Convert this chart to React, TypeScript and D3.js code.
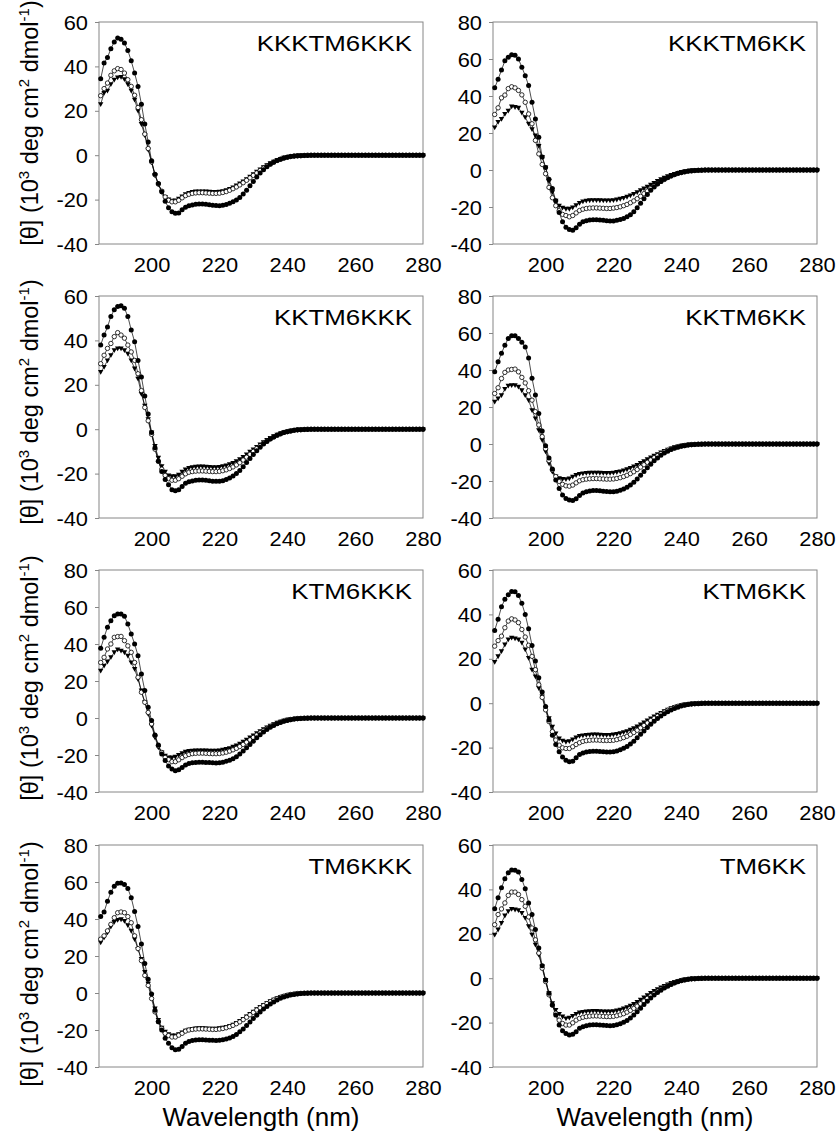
import { useEffect, useRef } from "react";
import * as d3 from "d3";

// wavelength grid, 1 nm steps
const wavelengths = d3.range(185, 281);

const titles = ["KKKTM6KKK", "KKKTM6KK", "KKTM6KKK", "KKTM6KK", "KTM6KKK", "KTM6KK", "TM6KKK", "TM6KK"];
const yMaxes = [60, 80, 60, 80, 80, 60, 80, 60];
const yTicks60 = [-40, -20, 0, 20, 40, 60];
const yTicks80 = [-40, -20, 0, 20, 40, 60, 80];
const xTicks = [200, 220, 240, 260, 280];

// filled circles / open circles / filled triangles, 185..280 nm
const kkkKkkFilled = [
  34.4, 41.5, 44, 48, 51, 52.8, 52.2, 50.5, 47.2, 42.5,
  37, 31, 23, 14, 6, -2.5, -8.6, -12.8, -16.5, -20.7,
  -23.7, -25.5, -26.2, -26, -24.6, -23.4, -22.8, -22.4, -22.1, -22,
  -22, -22.1, -22.3, -22.5, -22.7, -22.8, -22.6, -22.2, -21.6, -21,
  -20.2, -19, -17.5, -15.8, -13.8, -11.8, -9.8, -8, -6.5, -5.2,
  -4.1, -3.2, -2.4, -1.8, -1.3, -0.9, -0.6, -0.4, -0.3, -0.2, -0.1, -0.1,
  0, 0, 0, 0, 0, 0, 0, 0, 0, 0, 0, 0, 0, 0, 0, 0, 0, 0, 0, 0, 0, 0, 0, 0, 0, 0, 0, 0, 0, 0, 0, 0, 0, 0,
];
const kkkKkkOpen = [
  26.8, 30, 32.5, 36, 38, 39, 38.6, 37, 34, 31,
  27, 21.5, 16, 9.5, 3, -3, -8.8, -13, -16.2, -18.8,
  -20.3, -21, -21, -20.3, -19.2, -18.2, -17.6, -17.2, -17, -16.9,
  -16.9, -17, -17.1, -17.2, -17.2, -17.1, -16.8, -16.4, -15.8, -15.1,
  -14.3, -13.4, -12.4, -11.3, -10.2, -9.1, -8, -6.9, -5.8, -4.8,
  -3.9, -3.1, -2.4, -1.8, -1.3, -0.9, -0.6, -0.4, -0.3, -0.2, -0.1, 0,
  0, 0, 0, 0, 0, 0, 0, 0, 0, 0, 0, 0, 0, 0, 0, 0, 0, 0, 0, 0, 0, 0, 0, 0, 0, 0, 0, 0, 0, 0, 0, 0, 0, 0,
];
const kkkKkkTri = [
  23, 28, 29, 32, 34, 35, 35.2, 34.2, 32, 29,
  25, 20, 14, 9, 2.5, -3.2, -9, -13.2, -16.5, -18.8,
  -20, -20.5, -20.4, -19.6, -18.6, -17.6, -17, -16.6, -16.4, -16.3,
  -16.3, -16.4, -16.5, -16.6, -16.6, -16.5, -16.2, -15.8, -15.2, -14.5,
  -13.7, -12.8, -11.8, -10.8, -9.7, -8.6, -7.5, -6.4, -5.4, -4.5,
  -3.6, -2.9, -2.2, -1.7, -1.2, -0.8, -0.6, -0.4, -0.2, -0.1, -0.1, 0,
  0, 0, 0, 0, 0, 0, 0, 0, 0, 0, 0, 0, 0, 0, 0, 0, 0, 0, 0, 0, 0, 0, 0, 0, 0, 0, 0, 0, 0, 0, 0, 0, 0, 0,
];

const kkkKkFilled = [
  44.4, 49, 54, 59, 61, 62.3, 62, 60, 55.6, 51,
  45.7, 36.6, 27.6, 17.7, 7, 1.4, -5, -10, -16.6, -23,
  -28, -31, -32.2, -32.5, -31.2, -29.3, -28, -27.4, -27, -26.9,
  -26.9, -27, -27.2, -27.4, -27.5, -27.5, -27.2, -26.8, -26.2, -25.3,
  -24.2, -22.5, -20.4, -18, -15.6, -13.2, -11, -9.2, -7.6, -6.2,
  -5, -4, -3.1, -2.4, -1.8, -1.3, -0.9, -0.6, -0.4, -0.3, -0.2, -0.1,
  0, 0, 0, 0, 0, 0, 0, 0, 0, 0, 0, 0, 0, 0, 0, 0, 0, 0, 0, 0, 0, 0, 0, 0, 0, 0, 0, 0, 0, 0, 0, 0, 0, 0,
];
const kkkKkOpen = [
  30, 33.6, 39, 40.5, 44, 45, 44.4, 43, 40.6, 36.6,
  30.3, 25, 16, 8.7, 3, -2, -9.4, -15, -19.3, -22,
  -24, -24.6, -25.3, -24.6, -23.2, -21.9, -21.2, -20.8, -20.6, -20.5,
  -20.5, -20.6, -20.7, -20.8, -20.8, -20.6, -20.3, -19.9, -19.3, -18.6,
  -17.7, -16.7, -15.5, -14.2, -12.8, -11.4, -10, -8.7, -7.4, -6.2,
  -5.1, -4.1, -3.3, -2.5, -1.9, -1.4, -1, -0.7, -0.5, -0.3, -0.2, -0.1,
  0, 0, 0, 0, 0, 0, 0, 0, 0, 0, 0, 0, 0, 0, 0, 0, 0, 0, 0, 0, 0, 0, 0, 0, 0, 0, 0, 0, 0, 0, 0, 0, 0, 0,
];
const kkkKkTri = [
  23, 26, 27.6, 30.3, 32, 34.3, 34, 33.6, 31, 28.5,
  25, 22, 18.6, 13, 7, 1.4, -6, -12, -16.6, -19.3,
  -20.4, -21, -21, -20.3, -19, -17.8, -17, -16.6, -16.4, -16.3,
  -16.3, -16.4, -16.5, -16.5, -16.5, -16.3, -16, -15.6, -15.1, -14.5,
  -13.8, -13, -12, -11, -10, -9, -8, -7, -6, -5,
  -4.2, -3.4, -2.7, -2.1, -1.6, -1.1, -0.8, -0.5, -0.3, -0.2, -0.1, 0,
  0, 0, 0, 0, 0, 0, 0, 0, 0, 0, 0, 0, 0, 0, 0, 0, 0, 0, 0, 0, 0, 0, 0, 0, 0, 0, 0, 0, 0, 0, 0, 0, 0, 0,
];

const kkKkkFilled = [
  37.9, 42.4, 46, 50.8, 53.8, 55.3, 55.6, 54.5, 50.8, 44.7,
  39.4, 31, 23.5, 15, 6.8, -1.5, -8.3, -14.4, -19, -22.7,
  -25, -27.3, -27.7, -27.3, -25.8, -24.4, -23.7, -23.3, -23, -22.9,
  -22.9, -23, -23.2, -23.4, -23.5, -23.5, -23.2, -22.7, -22, -21.1,
  -20, -18.6, -16.9, -15, -13.2, -11.4, -9.7, -8.1, -6.7, -5.5,
  -4.4, -3.5, -2.7, -2, -1.5, -1.1, -0.8, -0.5, -0.3, -0.2, -0.1, -0.1,
  0, 0, 0, 0, 0, 0, 0, 0, 0, 0, 0, 0, 0, 0, 0, 0, 0, 0, 0, 0, 0, 0, 0, 0, 0, 0, 0, 0, 0, 0, 0, 0, 0, 0,
];
const kkKkkOpen = [
  29.5, 33.3, 36.4, 38.6, 41.7, 43.5, 42.4, 41, 37.9, 34.8,
  31, 25, 17.4, 9.8, 3.8, -2.3, -9, -14.4, -18, -20.8,
  -22.3, -23, -23, -22.3, -21.2, -20.1, -19.4, -19.1, -18.9, -18.8,
  -18.8, -18.9, -19, -19.1, -19.1, -19, -18.7, -18.3, -17.7, -17,
  -16.1, -15.1, -13.9, -12.6, -11.3, -10, -8.7, -7.5, -6.4, -5.3,
  -4.3, -3.5, -2.7, -2.1, -1.5, -1.1, -0.8, -0.5, -0.3, -0.2, -0.1, 0,
  0, 0, 0, 0, 0, 0, 0, 0, 0, 0, 0, 0, 0, 0, 0, 0, 0, 0, 0, 0, 0, 0, 0, 0, 0, 0, 0, 0, 0, 0, 0, 0, 0, 0,
];
const kkKkkTri = [
  25.8, 28, 31, 33.3, 35.6, 36.4, 36.4, 35.6, 34, 31,
  27.3, 22.7, 15.9, 10.6, 4.5, -1.5, -7.6, -12.9, -16.7, -19.2,
  -20.8, -21.2, -21.2, -20.5, -19.2, -18.2, -17.5, -17.1, -16.9, -16.8,
  -16.8, -16.9, -17, -17.1, -17.1, -17, -16.7, -16.3, -15.8, -15.2,
  -14.4, -13.5, -12.5, -11.4, -10.2, -9.1, -8, -6.9, -5.9, -4.9,
  -4, -3.2, -2.5, -1.9, -1.4, -1, -0.7, -0.5, -0.3, -0.2, -0.1, 0,
  0, 0, 0, 0, 0, 0, 0, 0, 0, 0, 0, 0, 0, 0, 0, 0, 0, 0, 0, 0, 0, 0, 0, 0, 0, 0, 0, 0, 0, 0, 0, 0, 0, 0,
];

const kkKkFilled = [
  39, 44.4, 49, 53.4, 57, 58.5, 58.5, 57, 55, 52.5,
  46.5, 35.5, 26.5, 16.5, 7, -1, -7.5, -13.5, -19.5, -24,
  -27.5, -29.5, -30.3, -30.5, -29.6, -27.8, -26.5, -25.8, -25.4, -25.2,
  -25.2, -25.3, -25.5, -25.7, -25.8, -25.8, -25.5, -25, -24.3, -23.4,
  -22.2, -20.7, -18.9, -16.9, -14.8, -12.8, -10.9, -9.1, -7.5, -6.1,
  -4.9, -3.9, -3, -2.3, -1.7, -1.2, -0.9, -0.6, -0.4, -0.3, -0.2, -0.1,
  0, 0, 0, 0, 0, 0, 0, 0, 0, 0, 0, 0, 0, 0, 0, 0, 0, 0, 0, 0, 0, 0, 0, 0, 0, 0, 0, 0, 0, 0, 0, 0, 0, 0,
];
const kkKkOpen = [
  27.3, 30.4, 35.4, 38.7, 40, 40.3, 40.5, 39, 36, 33,
  28.8, 23.7, 17.5, 10.3, 4, -2.5, -9, -14, -17.6, -20.2,
  -21.8, -22.6, -22.8, -22.2, -21, -19.9, -19.3, -19, -18.8, -18.7,
  -18.7, -18.8, -18.9, -19, -19, -18.9, -18.6, -18.2, -17.6, -16.9,
  -16, -15, -13.8, -12.5, -11.2, -9.9, -8.6, -7.4, -6.3, -5.2,
  -4.3, -3.4, -2.7, -2, -1.5, -1.1, -0.8, -0.5, -0.3, -0.2, -0.1, 0,
  0, 0, 0, 0, 0, 0, 0, 0, 0, 0, 0, 0, 0, 0, 0, 0, 0, 0, 0, 0, 0, 0, 0, 0, 0, 0, 0, 0, 0, 0, 0, 0, 0, 0,
];
const kkKkTri = [
  22.8, 24.6, 26.4, 29.7, 31.5, 31.8, 31.8, 31, 29, 26.4,
  23.7, 18.3, 13.8, 7.5, 2.2, -4, -10.4, -15, -17.6, -18.5,
  -18.9, -19, -18.6, -17.7, -16.8, -16.2, -15.9, -15.7, -15.6, -15.5,
  -15.5, -15.6, -15.7, -15.7, -15.7, -15.5, -15.2, -14.8, -14.3, -13.7,
  -13, -12.2, -11.3, -10.3, -9.3, -8.3, -7.3, -6.4, -5.5, -4.6,
  -3.8, -3.1, -2.4, -1.8, -1.3, -0.9, -0.6, -0.4, -0.3, -0.2, -0.1, 0,
  0, 0, 0, 0, 0, 0, 0, 0, 0, 0, 0, 0, 0, 0, 0, 0, 0, 0, 0, 0, 0, 0, 0, 0, 0, 0, 0, 0, 0, 0, 0, 0, 0, 0,
];

const kKkkFilled = [
  37.7, 43.6, 49, 52.6, 55.3, 56.2, 56.2, 55, 50.8, 45.4,
  40, 33.7, 23.8, 14.8, 5.8, -1.4, -9.2, -14.6, -19.5, -23,
  -26, -27.6, -28.5, -28, -26.7, -25.4, -24.6, -24.2, -24, -23.9,
  -23.9, -24, -24.1, -24.2, -24.3, -24.2, -23.9, -23.4, -22.8, -22,
  -20.9, -19.5, -17.9, -16.1, -14.3, -12.5, -10.7, -9, -7.5, -6.2,
  -5, -4, -3.1, -2.4, -1.8, -1.3, -0.9, -0.6, -0.4, -0.3, -0.2, -0.1,
  0, 0, 0, 0, 0, 0, 0, 0, 0, 0, 0, 0, 0, 0, 0, 0, 0, 0, 0, 0, 0, 0, 0, 0, 0, 0, 0, 0, 0, 0, 0, 0, 0, 0,
];
const kKkkOpen = [
  30, 32.8, 37.3, 40, 43.6, 44, 44.1, 41.8, 39, 35.5,
  30, 22, 13.9, 8.5, 3, -3.2, -9.5, -15, -18.6, -21.3,
  -22.5, -23.6, -23.6, -22.6, -21.4, -20.4, -19.7, -19.3, -19.1, -19,
  -19, -19.1, -19.2, -19.3, -19.3, -19.2, -18.9, -18.5, -17.9, -17.2,
  -16.4, -15.4, -14.3, -13.1, -11.8, -10.5, -9.2, -8, -6.8, -5.6,
  -4.6, -3.7, -2.9, -2.2, -1.6, -1.1, -0.8, -0.5, -0.3, -0.2, -0.1, 0,
  0, 0, 0, 0, 0, 0, 0, 0, 0, 0, 0, 0, 0, 0, 0, 0, 0, 0, 0, 0, 0, 0, 0, 0, 0, 0, 0, 0, 0, 0, 0, 0, 0, 0,
];
const kKkkTri = [
  25.6, 28.3, 30.5, 32.8, 35.5, 37, 36.4, 35.5, 33.7, 30,
  26.5, 21, 14.8, 8.5, 2.2, -4.1, -10.5, -15.9, -18.6, -20.4,
  -21.3, -21.4, -21, -20, -19, -18.3, -17.9, -17.7, -17.6, -17.5,
  -17.5, -17.6, -17.7, -17.7, -17.7, -17.5, -17.2, -16.8, -16.3, -15.6,
  -14.8, -13.9, -12.9, -11.8, -10.6, -9.4, -8.3, -7.2, -6.1, -5.1,
  -4.2, -3.4, -2.6, -2, -1.5, -1, -0.7, -0.5, -0.3, -0.2, -0.1, 0,
  0, 0, 0, 0, 0, 0, 0, 0, 0, 0, 0, 0, 0, 0, 0, 0, 0, 0, 0, 0, 0, 0, 0, 0, 0, 0, 0, 0, 0, 0, 0, 0, 0, 0,
];

const kKkFilled = [
  32.8, 37.8, 43.4, 46.8, 48.8, 50.3, 50.2, 48.5, 45, 40,
  33.5, 26, 19, 11.5, 5, -1.5, -7.6, -14.4, -18.6, -21.9,
  -24.2, -25.7, -26.4, -26.1, -24.6, -23.1, -22.4, -22, -21.8, -21.7,
  -21.7, -21.8, -21.9, -22, -22, -21.9, -21.5, -21, -20.3, -19.5,
  -18.4, -17.1, -15.6, -14, -12.5, -11, -9.5, -8.1, -6.9, -5.8,
  -4.8, -3.9, -3.1, -2.4, -1.8, -1.3, -0.9, -0.6, -0.4, -0.3, -0.2, -0.1,
  0, 0, 0, 0, 0, 0, 0, 0, 0, 0, 0, 0, 0, 0, 0, 0, 0, 0, 0, 0, 0, 0, 0, 0, 0, 0, 0, 0, 0, 0, 0, 0, 0, 0,
];
const kKkOpen = [
  25.7, 28.2, 30.2, 34, 37, 38, 37.5, 36.3, 33.2, 29.8,
  26.1, 21.1, 15.1, 8.3, 2.6, -3, -8.3, -12.8, -16.6, -18.9,
  -20.1, -20.4, -20.4, -19.6, -18.6, -17.8, -17.2, -16.9, -16.7, -16.6,
  -16.6, -16.7, -16.8, -16.8, -16.8, -16.7, -16.4, -16, -15.5, -14.9,
  -14.1, -13.2, -12.2, -11.1, -10, -8.9, -7.8, -6.8, -5.8, -4.9,
  -4, -3.2, -2.5, -1.9, -1.4, -1, -0.7, -0.5, -0.3, -0.2, -0.1, 0,
  0, 0, 0, 0, 0, 0, 0, 0, 0, 0, 0, 0, 0, 0, 0, 0, 0, 0, 0, 0, 0, 0, 0, 0, 0, 0, 0, 0, 0, 0, 0, 0, 0, 0,
];
const kKkTri = [
  18.6, 21.1, 23.4, 26.4, 28.7, 29.5, 29.2, 28.7, 27.2, 24.2,
  20.4, 15.1, 12, 6.8, 3, -2.3, -6.8, -10.6, -13.6, -15.9,
  -16.9, -17.4, -17.1, -16.3, -15.4, -14.8, -14.5, -14.3, -14.2, -14.1,
  -14.1, -14.2, -14.3, -14.3, -14.3, -14.1, -13.9, -13.5, -13.1, -12.6,
  -12, -11.3, -10.5, -9.6, -8.7, -7.8, -6.9, -6, -5.2, -4.4,
  -3.6, -2.9, -2.3, -1.8, -1.3, -0.9, -0.6, -0.4, -0.3, -0.2, -0.1, 0,
  0, 0, 0, 0, 0, 0, 0, 0, 0, 0, 0, 0, 0, 0, 0, 0, 0, 0, 0, 0, 0, 0, 0, 0, 0, 0, 0, 0, 0, 0, 0, 0, 0, 0,
];

const tmKkkFilled = [
  41.3, 43.8, 49.6, 54.5, 57.7, 59.3, 59.5, 58.6, 56.5, 51.5,
  44, 36, 26.5, 16, 7.5, -0.5, -9.3, -15.5, -20, -24.5,
  -27.1, -29.6, -30.7, -30.4, -28.9, -27.2, -26.2, -25.7, -25.4, -25.3,
  -25.3, -25.4, -25.5, -25.6, -25.7, -25.6, -25.3, -24.9, -24.3, -23.5,
  -22.4, -21, -19.4, -17.6, -15.7, -13.8, -12, -10.3, -8.7, -7.3,
  -6, -4.8, -3.8, -2.9, -2.2, -1.6, -1.1, -0.8, -0.5, -0.3, -0.2, -0.1,
  0, 0, 0, 0, 0, 0, 0, 0, 0, 0, 0, 0, 0, 0, 0, 0, 0, 0, 0, 0, 0, 0, 0, 0, 0, 0, 0, 0, 0, 0, 0, 0, 0, 0,
];
const tmKkkOpen = [
  29.1, 30.9, 33.6, 37.1, 40.7, 43.4, 43.8, 43.4, 41.3, 38,
  30.9, 24, 17.5, 9.5, 4.1, -3, -10.2, -15.5, -19.1, -21.8,
  -23, -23.8, -23.8, -22.8, -21.8, -20.6, -20, -19.7, -19.5, -19.4,
  -19.4, -19.5, -19.6, -19.7, -19.7, -19.5, -19.2, -18.8, -18.2, -17.5,
  -16.6, -15.6, -14.4, -13.1, -11.8, -10.5, -9.2, -8, -6.8, -5.7,
  -4.7, -3.8, -3, -2.3, -1.7, -1.2, -0.8, -0.5, -0.3, -0.2, -0.1, 0,
  0, 0, 0, 0, 0, 0, 0, 0, 0, 0, 0, 0, 0, 0, 0, 0, 0, 0, 0, 0, 0, 0, 0, 0, 0, 0, 0, 0, 0, 0, 0, 0, 0, 0,
];
const tmKkkTri = [
  27.3, 30, 32.7, 35.9, 38.4, 39.5, 39.8, 38.9, 36.6, 33.6,
  29.1, 23.8, 18.4, 11.3, 5, -1.3, -8.4, -14.6, -18.8, -20.9,
  -22.3, -23, -23, -22.3, -21.3, -20.4, -19.8, -19.4, -19.2, -19.1,
  -19.1, -19.2, -19.3, -19.3, -19.3, -19.1, -18.8, -18.4, -17.8, -17.1,
  -16.2, -15.2, -14, -12.7, -11.4, -10.1, -8.8, -7.6, -6.5, -5.4,
  -4.4, -3.6, -2.8, -2.2, -1.6, -1.1, -0.8, -0.5, -0.3, -0.2, -0.1, 0,
  0, 0, 0, 0, 0, 0, 0, 0, 0, 0, 0, 0, 0, 0, 0, 0, 0, 0, 0, 0, 0, 0, 0, 0, 0, 0, 0, 0, 0, 0, 0, 0, 0, 0,
];

const tmKkFilled = [
  31.3, 36.2, 40.7, 44.8, 47.5, 48.7, 48.6, 47.8, 44.5, 40.3,
  33.9, 28.7, 21.9, 13.6, 5.6, -0.8, -6.8, -12.1, -16.6, -21.1,
  -23.7, -24.9, -25.6, -25.3, -24.1, -22.6, -21.9, -21.4, -21.1, -21,
  -21, -21.1, -21.2, -21.3, -21.4, -21.3, -21, -20.5, -19.8, -19,
  -17.9, -16.6, -15.1, -13.5, -11.9, -10.4, -8.9, -7.6, -6.4, -5.4,
  -4.4, -3.6, -2.8, -2.2, -1.6, -1.2, -0.8, -0.5, -0.3, -0.2, -0.1, -0.1,
  0, 0, 0, 0, 0, 0, 0, 0, 0, 0, 0, 0, 0, 0, 0, 0, 0, 0, 0, 0, 0, 0, 0, 0, 0, 0, 0, 0, 0, 0, 0, 0, 0, 0,
];
const tmKkOpen = [
  24.1, 28.7, 31.2, 33.9, 37.3, 38.8, 38.8, 37.7, 35.4, 32.4,
  27.6, 22.6, 17.3, 11.3, 4.5, -1.5, -7.5, -12.1, -15.8, -18.9,
  -20.4, -21.1, -21.1, -20.1, -18.9, -18.1, -17.6, -17.3, -17.1, -17,
  -17, -17.1, -17.2, -17.3, -17.3, -17.2, -16.9, -16.5, -16, -15.3,
  -14.5, -13.6, -12.6, -11.5, -10.3, -9.1, -8, -6.9, -5.9, -5,
  -4.1, -3.3, -2.6, -2, -1.5, -1, -0.7, -0.5, -0.3, -0.2, -0.1, 0,
  0, 0, 0, 0, 0, 0, 0, 0, 0, 0, 0, 0, 0, 0, 0, 0, 0, 0, 0, 0, 0, 0, 0, 0, 0, 0, 0, 0, 0, 0, 0, 0, 0, 0,
];
const tmKkTri = [
  19.6, 21.9, 24.9, 28.2, 30.2, 31.2, 30.9, 30.6, 29.4, 27.1,
  23.4, 19.6, 15.1, 10.6, 5.3, -0.8, -6.8, -11.3, -14.3, -16.1,
  -17.3, -18.1, -17.8, -17, -16.1, -15.5, -15.2, -15, -14.9, -14.8,
  -14.8, -14.9, -15, -15, -15, -14.9, -14.6, -14.2, -13.7, -13.1,
  -12.4, -11.6, -10.7, -9.7, -8.7, -7.7, -6.7, -5.8, -5, -4.2,
  -3.5, -2.8, -2.2, -1.7, -1.3, -0.9, -0.6, -0.4, -0.3, -0.2, -0.1, 0,
  0, 0, 0, 0, 0, 0, 0, 0, 0, 0, 0, 0, 0, 0, 0, 0, 0, 0, 0, 0, 0, 0, 0, 0, 0, 0, 0, 0, 0, 0, 0, 0, 0, 0,
];

const filledSeries = [kkkKkkFilled, kkkKkFilled, kkKkkFilled, kkKkFilled, kKkkFilled, kKkFilled, tmKkkFilled, tmKkFilled];
const openSeries = [kkkKkkOpen, kkkKkOpen, kkKkkOpen, kkKkOpen, kKkkOpen, kKkOpen, tmKkkOpen, tmKkOpen];
const triSeries = [kkkKkkTri, kkkKkTri, kkKkkTri, kkKkTri, kKkkTri, kKkTri, tmKkkTri, tmKkTri];

const W = 836;
const H = 1134;
const colX = [99, 493];
const rowY = [22, 296, 570, 845];
const plotW = 324;
const plotH = 222;
const yLabelCenters = [123, 402, 678, 964];
const font = "'Liberation Sans', Arial, sans-serif";
const axisColor = "#868686";

export default function App() {
  const ref = useRef<SVGSVGElement>(null);

  useEffect(() => {
    const svg = d3.select(ref.current);
    svg.selectAll("*").remove();
    svg.append("rect").attr("width", W).attr("height", H).attr("fill", "#fff");

    titles.forEach((title, i) => {
      const col = i % 2;
      const row = Math.floor(i / 2);
      const left = colX[col];
      const top = rowY[row];

      const x = d3.scaleLinear().domain([184.5, 280]).range([left, left + plotW]);
      const y = d3.scaleLinear().domain([-40, yMaxes[i]]).range([top + plotH, top]);

      const g = svg.append("g");

      // y axis ticks + labels (plain hyphen minus like the original)
      const yAxis = d3
        .axisLeft(y)
        .tickValues(yMaxes[i] === 80 ? yTicks80 : yTicks60)
        .tickSizeInner(4)
        .tickSizeOuter(0)
        .tickFormat((d) => String(d));
      const ya = g.append("g").attr("transform", `translate(${left},0)`).call(yAxis);
      ya.select(".domain").remove();
      ya.selectAll(".tick line").attr("stroke", axisColor);
      ya.selectAll(".tick text")
        .attr("x", null)
        .attr("dy", "0.36em")
        .attr("fill", "#000")
        .attr("font-size", 19.5)
        .attr("font-family", font)
        .attr("transform", "translate(-11,0) scale(1.12,1)");

      // x axis labels
      const xAxis = d3.axisBottom(x).tickValues(xTicks).tickSize(0).tickFormat((d) => String(d));
      const xa = g.append("g").attr("transform", `translate(0,${top + plotH})`).call(xAxis);
      xa.select(".domain").remove();
      xa.selectAll(".tick text")
        .attr("y", null)
        .attr("dy", null)
        .attr("fill", "#000")
        .attr("font-size", 19.5)
        .attr("font-family", font)
        .attr("transform", "translate(0,27.5) scale(1.12,1)");

      // plot frame
      g.append("rect")
        .attr("x", left)
        .attr("y", top)
        .attr("width", plotW)
        .attr("height", plotH)
        .attr("fill", "none")
        .attr("stroke", axisColor)
        .attr("stroke-width", 1);

      const pts = (vals: number[]) => wavelengths.map((w, k) => [x(w), y(vals[k])] as [number, number]);
      const line = d3.line();

      const sets = [triSeries[i], openSeries[i], filledSeries[i]];
      sets.forEach((vals) => {
        g.append("path")
          .attr("d", line(pts(vals)))
          .attr("fill", "none")
          .attr("stroke", "#000")
          .attr("stroke-width", 0.7);
      });

      // down triangles
      g.append("g")
        .selectAll("path")
        .data(pts(triSeries[i]))
        .join("path")
        .attr("d", (d) => `M${d[0] - 2.7},${d[1] - 2}L${d[0] + 2.7},${d[1] - 2}L${d[0]},${d[1] + 2.8}Z`)
        .attr("fill", "#000");

      // open circles
      g.append("g")
        .selectAll("circle")
        .data(pts(openSeries[i]))
        .join("circle")
        .attr("cx", (d) => d[0])
        .attr("cy", (d) => d[1])
        .attr("r", 2.2)
        .attr("fill", "#fff")
        .attr("stroke", "#000")
        .attr("stroke-width", 0.8);

      // filled circles
      g.append("g")
        .selectAll("circle")
        .data(pts(filledSeries[i]))
        .join("circle")
        .attr("cx", (d) => d[0])
        .attr("cy", (d) => d[1])
        .attr("r", 2.5)
        .attr("fill", "#000");

      // panel title
      g.append("text")
        .attr("transform", `translate(${left + plotW - 11},${top + 29}) scale(1.15,1)`)
        .attr("text-anchor", "end")
        .attr("font-family", font)
        .attr("font-size", 22.5)
        .attr("fill", "#000")
        .text(title);

      // y label on left column
      if (col === 0) {
        const t = g
          .append("text")
          .attr("transform", `translate(38,${yLabelCenters[row]}) rotate(-90)`)
          .attr("text-anchor", "middle")
          .attr("font-family", font)
          .attr("font-size", 23.5)
          .attr("fill", "#000");
        t.append("tspan").text("[θ] (10");
        t.append("tspan").attr("font-size", 15).attr("dy", -9).text("3");
        t.append("tspan").attr("dy", 9).text(" deg cm");
        t.append("tspan").attr("font-size", 15).attr("dy", -9).text("2");
        t.append("tspan").attr("dy", 9).text(" dmol");
        t.append("tspan").attr("font-size", 15).attr("dy", -9).text("-1");
        t.append("tspan").attr("dy", 9).text(")");
      }

      // x label on bottom row
      if (row === 3) {
        g.append("text")
          .attr("x", left + plotW / 2)
          .attr("y", 1126)
          .attr("text-anchor", "middle")
          .attr("font-family", font)
          .attr("font-size", 26)
          .attr("fill", "#000")
          .text("Wavelength (nm)");
      }
    });
  }, []);

  return (
    <svg
      ref={ref}
      width={W}
      height={H}
      viewBox={`0 0 ${W} ${H}`}
      style={{ position: "absolute", left: 0, top: 0, display: "block" }}
    />
  );
}
